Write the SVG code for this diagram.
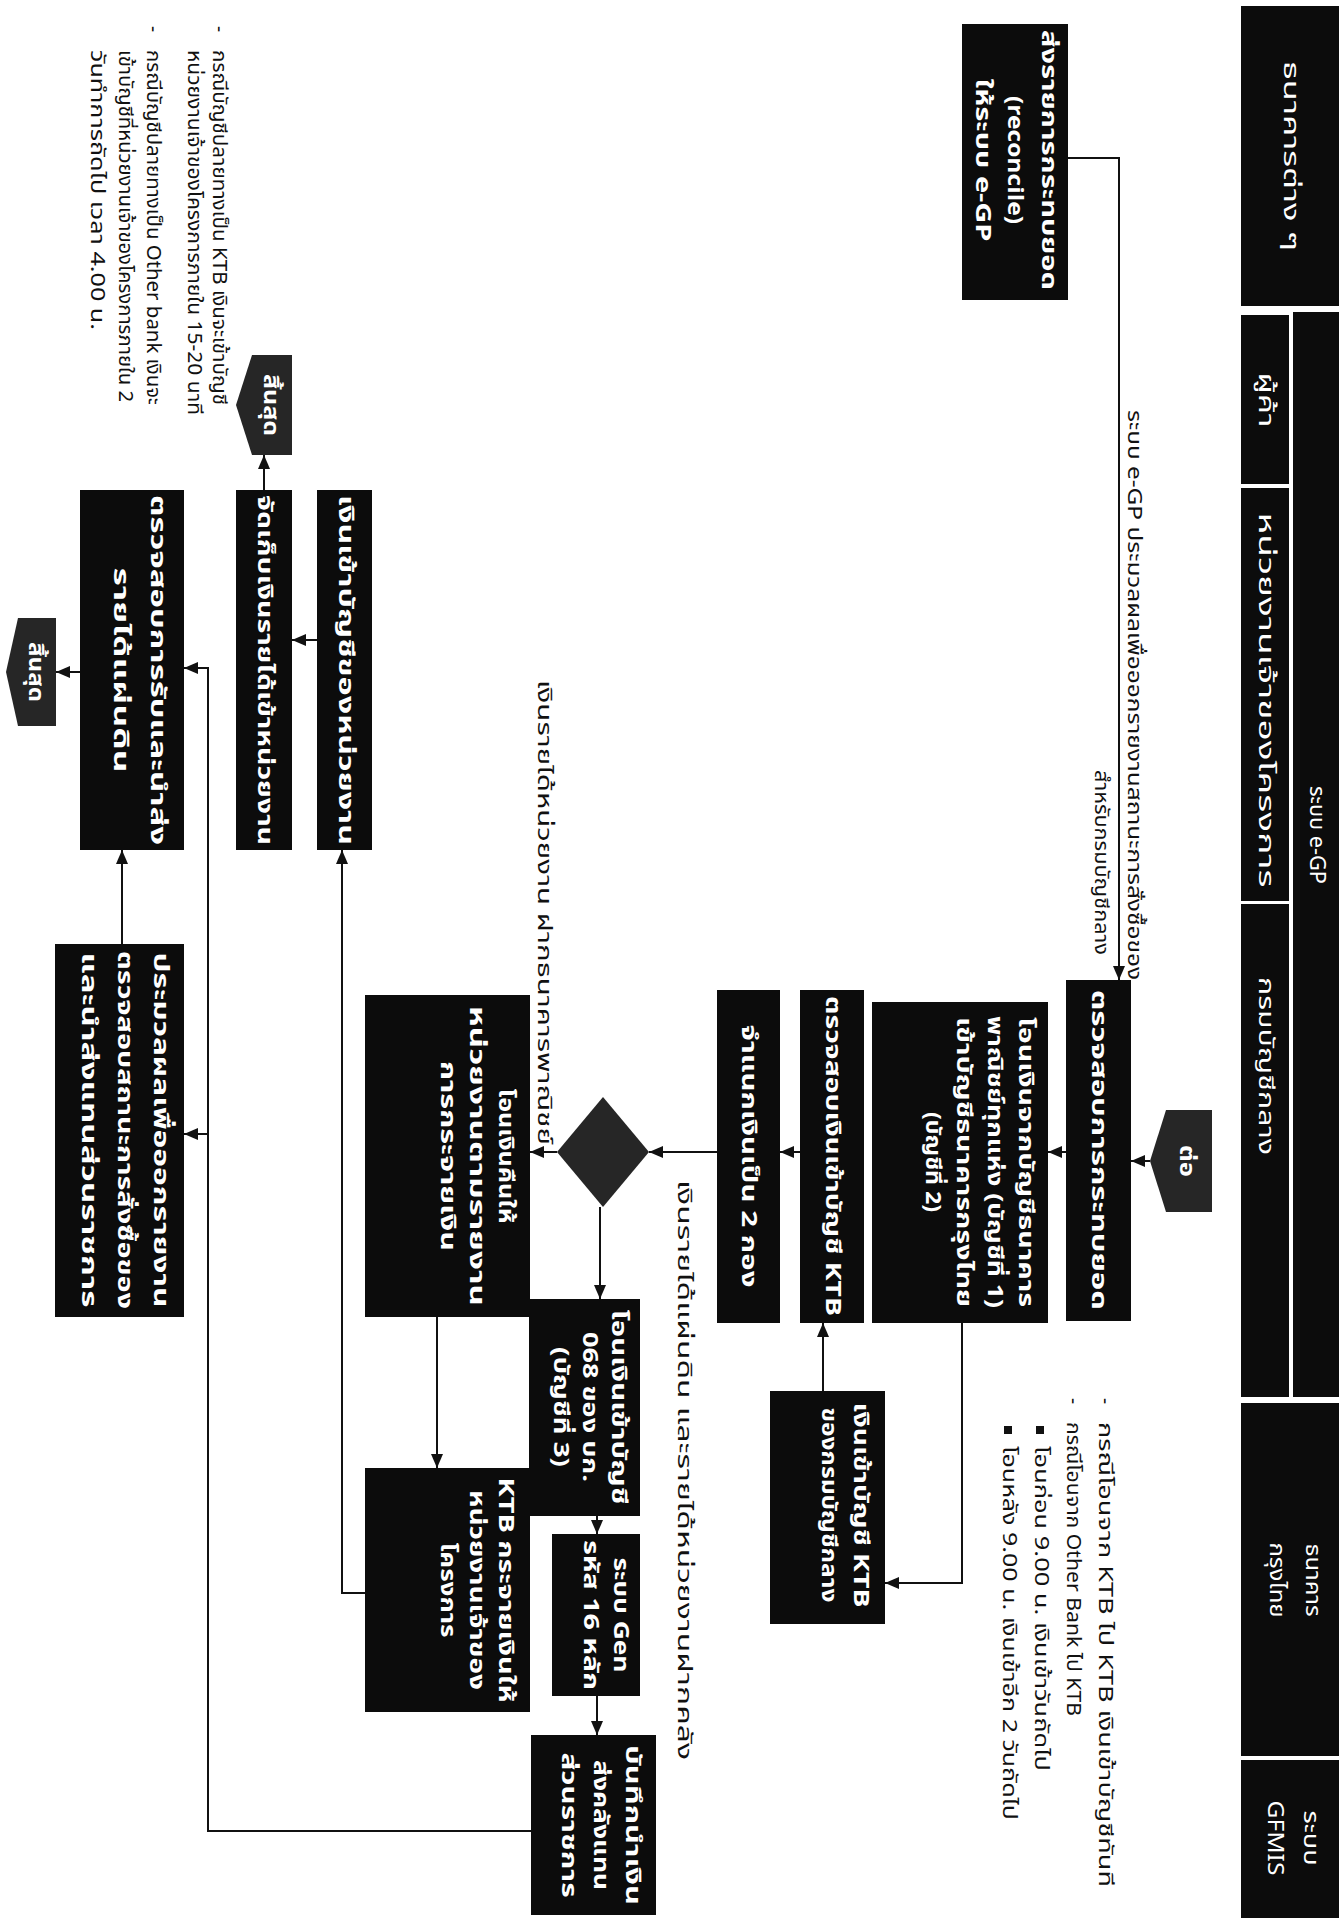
<svg xmlns="http://www.w3.org/2000/svg" width="1343" height="1921" viewBox="0 0 1343 1921">
<defs>
<marker id="ah" viewBox="0 0 14 12" refX="14" refY="6" markerWidth="14" markerHeight="12" markerUnits="userSpaceOnUse" orient="auto"><path d="M0,0 L14,6 L0,12 z" fill="#111"/></marker>
<style>
.box{fill:#0c0c0c}
.gray{fill:#262626}
.w{font-family:'Noto Sans Thai','Noto Sans Thai Looped','Loma','Garuda','Noto Sans','DejaVu Sans',sans-serif;font-size:21px;font-weight:bold;fill:#fff;text-anchor:middle;dominant-baseline:central}
.h{font-family:'Noto Sans Thai','Noto Sans Thai Looped','Loma','Garuda','Noto Sans','DejaVu Sans',sans-serif;font-size:22px;fill:#fff;text-anchor:middle;dominant-baseline:central}
.k{font-family:'Noto Sans Thai','Noto Sans Thai Looped','Loma','Garuda','Noto Sans','DejaVu Sans',sans-serif;font-size:19px;fill:#111;text-anchor:start;dominant-baseline:central}
.c{fill:none;stroke:#111;stroke-width:2}
.a{marker-end:url(#ah)}
</style>
</defs>
<rect width="1343" height="1921" fill="#fff"/>

<g id="headers">
<g id="h-banks"><rect class="box" x="1241" y="6" width="98" height="300"/><text class="h" transform="translate(1290 156) rotate(90)" textLength="190" lengthAdjust="spacingAndGlyphs">ธนาคารต่าง ๆ</text></g>
<g id="h-egp"><rect class="box" x="1293" y="312" width="46" height="1085"/><text class="h" transform="translate(1316 835) rotate(90)" textLength="98" lengthAdjust="spacingAndGlyphs">ระบบ e-GP</text></g>
<g id="h-vendor"><rect class="box" x="1241" y="315" width="48" height="169"/><text class="h" transform="translate(1265 400) rotate(90)" textLength="55" lengthAdjust="spacingAndGlyphs">ผู้ค้า</text></g>
<g id="h-agency"><rect class="box" x="1241" y="488" width="48" height="413"/><text class="h" transform="translate(1265 700) rotate(90)" textLength="375" lengthAdjust="spacingAndGlyphs">หน่วยงานเจ้าของโครงการ</text></g>
<g id="h-cgd"><rect class="box" x="1241" y="904" width="48" height="493"/><text class="h" transform="translate(1265 1066) rotate(90)" textLength="178" lengthAdjust="spacingAndGlyphs">กรมบัญชีกลาง</text></g>
<g id="h-ktb"><rect class="box" x="1241" y="1403" width="98" height="353"/><text class="h" transform="translate(1312 1580) rotate(90)" textLength="73" lengthAdjust="spacingAndGlyphs">ธนาคาร</text><text class="h" transform="translate(1276 1580) rotate(90)" textLength="75" lengthAdjust="spacingAndGlyphs">กรุงไทย</text></g>
<g id="h-gfmis"><rect class="box" x="1241" y="1760" width="98" height="158"/><text class="h" transform="translate(1310 1838) rotate(90)" textLength="55" lengthAdjust="spacingAndGlyphs">ระบบ</text><text class="h" transform="translate(1274 1838) rotate(90)" textLength="75" lengthAdjust="spacingAndGlyphs">GFMIS</text></g>
</g>

<g id="connectors">
<path class="c a" d="M1068,158 H1119 V980"/>
<path class="c a" d="M1150,1161 H1131"/>
<path class="c a" d="M1066,1152 H1048"/>
<path class="c a" d="M962,1323 V1583 H885"/>
<path class="c a" d="M823,1391 V1323"/>
<path class="c a" d="M800,1152 H780"/>
<path class="c a" d="M717,1152 H649"/>
<path class="c a" d="M557,1152 H530"/>
<path class="c a" d="M600,1207 V1299"/>
<path class="c a" d="M597,1516 V1534"/>
<path class="c a" d="M597,1696 V1735"/>
<path class="c a" d="M437,1317 V1468"/>
<path class="c a" d="M365,1593 H342 V850"/>
<path class="c a" d="M317,640 H292"/>
<path class="c a" d="M264,490 V455"/>
<path class="c a" d="M531,1831 H208 V668 H184"/>
<path class="c a" d="M208,1134 H184"/>
<path class="c a" d="M122,944 V850"/>
<path class="c a" d="M80,672 H56"/>
</g>

<g id="labels">
<text class="k" transform="translate(1133 410) rotate(90)" textLength="570" lengthAdjust="spacingAndGlyphs">ระบบ e-GP ประมวลผลเพื่อออกรายงานสถานะการสั่งซื้อของ</text>
<text class="k" transform="translate(1100 770) rotate(90)" textLength="185" lengthAdjust="spacingAndGlyphs">สำหรับกรมบัญชีกลาง</text>
<text class="k" transform="translate(683 1180) rotate(90)" textLength="580" lengthAdjust="spacingAndGlyphs">เงินรายได้แผ่นดิน และรายได้หน่วยงานฝากคลัง</text>
<text class="k" transform="translate(543 680) rotate(90)" textLength="465" lengthAdjust="spacingAndGlyphs">เงินรายได้หน่วยงาน ฝากธนาคารพาณิชย์</text>
</g>

<g id="notes-right">
<text class="k" transform="translate(1104 1398) rotate(90)">-</text>
<text class="k" transform="translate(1104 1422) rotate(90)" textLength="465" lengthAdjust="spacingAndGlyphs">กรณีโอนจาก KTB ไป KTB เงินเข้าบัญชีทันที</text>
<text class="k" transform="translate(1072 1398) rotate(90)">-</text>
<text class="k" transform="translate(1072 1422) rotate(90)" textLength="294" lengthAdjust="spacingAndGlyphs">กรณีโอนจาก Other Bank ไป KTB</text>
<rect x="1036" y="1426" width="8" height="8" fill="#111"/>
<text class="k" transform="translate(1040 1446) rotate(90)" textLength="325" lengthAdjust="spacingAndGlyphs">โอนก่อน 9.00 น. เงินเข้าวันถัดไป</text>
<rect x="1004" y="1426" width="8" height="8" fill="#111"/>
<text class="k" transform="translate(1008 1446) rotate(90)" textLength="374" lengthAdjust="spacingAndGlyphs">โอนหลัง 9.00 น. เงินเข้าอีก 2 วันถัดไป</text>
</g>

<g id="notes-left">
<text class="k" transform="translate(218 26) rotate(90)">-</text>
<text class="k" transform="translate(218 50) rotate(90)" textLength="355" lengthAdjust="spacingAndGlyphs">กรณีบัญชีปลายทางเป็น KTB เงินจะเข้าบัญชี</text>
<text class="k" transform="translate(193 50) rotate(90)" textLength="365" lengthAdjust="spacingAndGlyphs">หน่วยงานเจ้าของโครงการภายใน 15-20 นาที</text>
<text class="k" transform="translate(152 26) rotate(90)">-</text>
<text class="k" transform="translate(152 50) rotate(90)" textLength="355" lengthAdjust="spacingAndGlyphs">กรณีบัญชีปลายทางเป็น Other bank เงินจะ</text>
<text class="k" transform="translate(124 50) rotate(90)" textLength="352" lengthAdjust="spacingAndGlyphs">เข้าบัญชีที่หน่วยงานเจ้าของโครงการภายใน 2</text>
<text class="k" transform="translate(96 50) rotate(90)" textLength="280" lengthAdjust="spacingAndGlyphs">วันทำการถัดไป เวลา 4.00 น.</text>
</g>

<g id="n-reconcile"><rect class="box" x="962" y="24" width="106" height="276"/>
<text class="w" transform="translate(1048 160) rotate(90)" textLength="260" lengthAdjust="spacingAndGlyphs">ส่งรายการกระทบยอด</text>
<text class="w" transform="translate(1014 160) rotate(90)" textLength="128" lengthAdjust="spacingAndGlyphs">(reconcile)</text>
<text class="w" transform="translate(982 160) rotate(90)" textLength="163" lengthAdjust="spacingAndGlyphs">ให้ระบบ e-GP</text></g>

<g id="n-check-reconcile"><rect class="box" x="1066" y="980" width="65" height="341"/>
<text class="w" transform="translate(1098 1150) rotate(90)" textLength="320" lengthAdjust="spacingAndGlyphs">ตรวจสอบการกระทบยอด</text></g>

<g id="n-continue"><polygon class="gray" points="1212,1110 1166,1110 1150,1161 1166,1212 1212,1212"/>
<text class="w" transform="translate(1186 1161) rotate(90)" textLength="32" lengthAdjust="spacingAndGlyphs">ต่อ</text></g>

<g id="n-transfer1"><rect class="box" x="872" y="1002" width="176" height="321"/>
<text class="w" transform="translate(1025 1162) rotate(90)" textLength="290" lengthAdjust="spacingAndGlyphs">โอนเงินจากบัญชีธนาคาร</text>
<text class="w" transform="translate(994 1162) rotate(90)" textLength="292" lengthAdjust="spacingAndGlyphs">พาณิชย์ทุกแห่ง (บัญชีที่ 1)</text>
<text class="w" transform="translate(963 1162) rotate(90)" textLength="290" lengthAdjust="spacingAndGlyphs">เข้าบัญชีธนาคารกรุงไทย</text>
<text class="w" transform="translate(932 1162) rotate(90)" textLength="100" lengthAdjust="spacingAndGlyphs">(บัญชีที่ 2)</text></g>

<g id="n-ktb-in"><rect class="box" x="770" y="1391" width="115" height="233"/>
<text class="w" transform="translate(860 1505) rotate(90)" textLength="205" lengthAdjust="spacingAndGlyphs">เงินเข้าบัญชี KTB</text>
<text class="w" transform="translate(828 1505) rotate(90)" textLength="195" lengthAdjust="spacingAndGlyphs">ของกรมบัญชีกลาง</text></g>

<g id="n-check-ktb"><rect class="box" x="800" y="990" width="64" height="333"/>
<text class="w" transform="translate(832 1156) rotate(90)" textLength="320" lengthAdjust="spacingAndGlyphs">ตรวจสอบเงินเข้าบัญชี KTB</text></g>

<g id="n-split"><rect class="box" x="717" y="990" width="63" height="333"/>
<text class="w" transform="translate(748 1156) rotate(90)" textLength="263" lengthAdjust="spacingAndGlyphs">จำแนกเงินเป็น 2 กอง</text></g>

<g id="n-decision"><polygon class="gray" points="649,1152 603,1207 557,1152 603,1097"/></g>

<g id="n-refund"><rect class="box" x="365" y="995" width="165" height="322"/>
<text class="w" transform="translate(505 1156) rotate(90)" textLength="135" lengthAdjust="spacingAndGlyphs">โอนเงินคืนให้</text>
<text class="w" transform="translate(476 1156) rotate(90)" textLength="300" lengthAdjust="spacingAndGlyphs">หน่วยงานตามรายงาน</text>
<text class="w" transform="translate(447 1156) rotate(90)" textLength="190" lengthAdjust="spacingAndGlyphs">การกระจายเงิน</text></g>

<g id="n-acct068"><rect class="box" x="529" y="1299" width="111" height="217"/>
<text class="w" transform="translate(618 1407) rotate(90)" textLength="195" lengthAdjust="spacingAndGlyphs">โอนเงินเข้าบัญชี</text>
<text class="w" transform="translate(589 1407) rotate(90)" textLength="150" lengthAdjust="spacingAndGlyphs">068 ของ บก.</text>
<text class="w" transform="translate(560 1407) rotate(90)" textLength="120" lengthAdjust="spacingAndGlyphs">(บัญชีที่ 3)</text></g>

<g id="n-gen"><rect class="box" x="552" y="1534" width="88" height="162"/>
<text class="w" transform="translate(620 1615) rotate(90)" textLength="115" lengthAdjust="spacingAndGlyphs">ระบบ Gen</text>
<text class="w" transform="translate(590 1615) rotate(90)" textLength="150" lengthAdjust="spacingAndGlyphs">รหัส 16 หลัก</text></g>

<g id="n-record"><rect class="box" x="531" y="1735" width="125" height="180"/>
<text class="w" transform="translate(632 1825) rotate(90)" textLength="160" lengthAdjust="spacingAndGlyphs">บันทึกนำเงิน</text>
<text class="w" transform="translate(600 1825) rotate(90)" textLength="130" lengthAdjust="spacingAndGlyphs">ส่งคลังแทน</text>
<text class="w" transform="translate(568 1825) rotate(90)" textLength="145" lengthAdjust="spacingAndGlyphs">ส่วนราชการ</text></g>

<g id="n-ktb-dist"><rect class="box" x="365" y="1468" width="165" height="244"/>
<text class="w" transform="translate(505 1590) rotate(90)" textLength="225" lengthAdjust="spacingAndGlyphs">KTB กระจายเงินให้</text>
<text class="w" transform="translate(476 1590) rotate(90)" textLength="200" lengthAdjust="spacingAndGlyphs">หน่วยงานเจ้าของ</text>
<text class="w" transform="translate(447 1590) rotate(90)" textLength="95" lengthAdjust="spacingAndGlyphs">โครงการ</text></g>

<g id="n-agency-in"><rect class="box" x="317" y="490" width="55" height="360"/>
<text class="w" transform="translate(345 670) rotate(90)" textLength="350" lengthAdjust="spacingAndGlyphs">เงินเข้าบัญชีของหน่วยงาน</text></g>

<g id="n-collect"><rect class="box" x="236" y="490" width="56" height="360"/>
<text class="w" transform="translate(264 670) rotate(90)" textLength="350" lengthAdjust="spacingAndGlyphs">จัดเก็บเงินรายได้เข้าหน่วยงาน</text></g>

<g id="n-end1"><polygon class="gray" points="292,355 252,355 236,405 252,455 292,455"/>
<text class="w" transform="translate(270 405) rotate(90)" textLength="62" lengthAdjust="spacingAndGlyphs">สิ้นสุด</text></g>

<g id="n-check-revenue"><rect class="box" x="80" y="490" width="104" height="360"/>
<text class="w" transform="translate(157 670) rotate(90)" textLength="350" lengthAdjust="spacingAndGlyphs">ตรวจสอบการรับและนำส่ง</text>
<text class="w" transform="translate(120 670) rotate(90)" textLength="205" lengthAdjust="spacingAndGlyphs">รายได้แผ่นดิน</text></g>

<g id="n-end2"><polygon class="gray" points="56,618 18,618 6,672 18,726 56,726"/>
<text class="w" transform="translate(35 672) rotate(90)" textLength="60" lengthAdjust="spacingAndGlyphs">สิ้นสุด</text></g>

<g id="n-report"><rect class="box" x="55" y="944" width="129" height="373"/>
<text class="w" transform="translate(160 1130) rotate(90)" textLength="355" lengthAdjust="spacingAndGlyphs">ประมวลผลเพื่อออกรายงาน</text>
<text class="w" transform="translate(124 1130) rotate(90)" textLength="358" lengthAdjust="spacingAndGlyphs">ตรวจสอบสถานะการสั่งซื้อของ</text>
<text class="w" transform="translate(88 1130) rotate(90)" textLength="355" lengthAdjust="spacingAndGlyphs">และนำส่งแทนส่วนราชการ</text></g>
</svg>
